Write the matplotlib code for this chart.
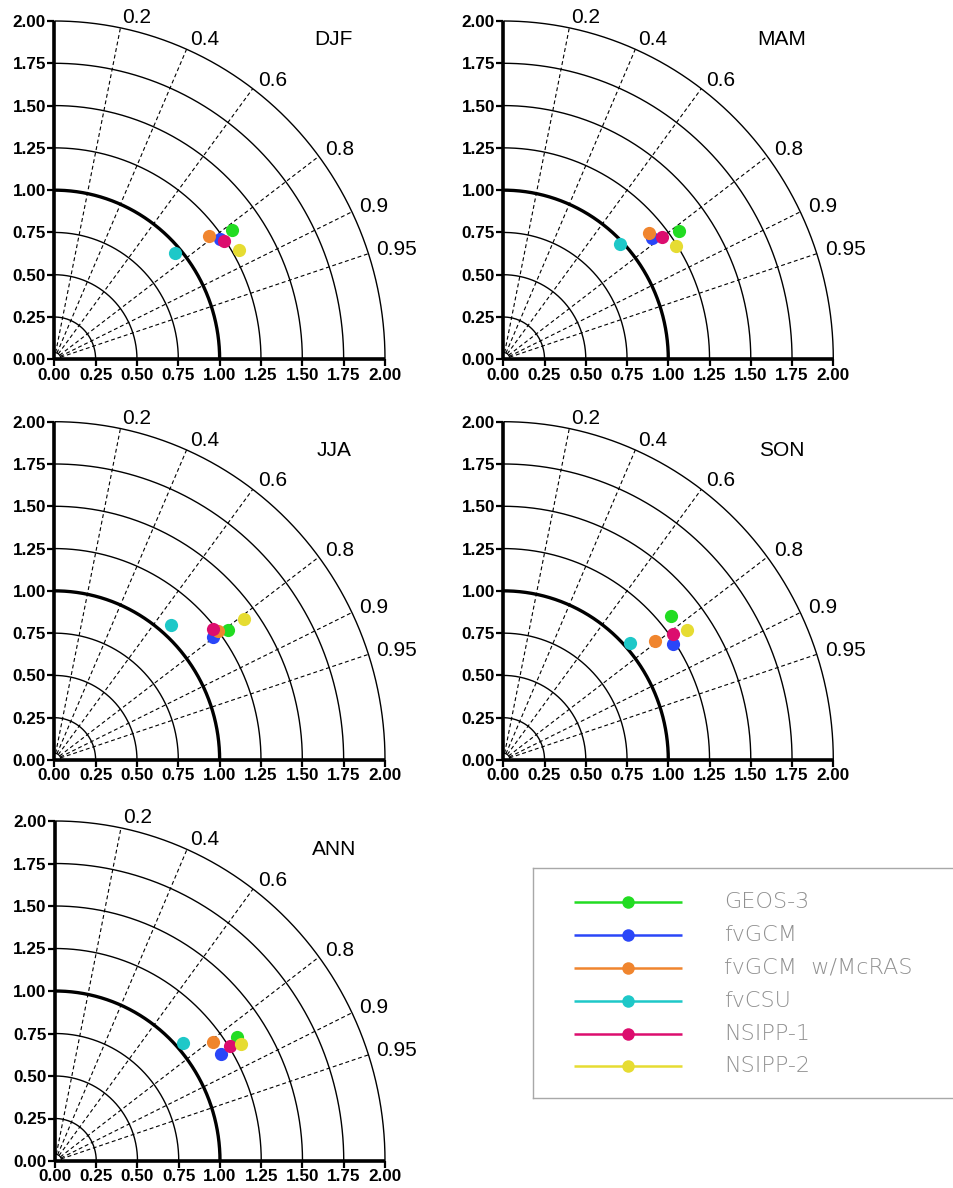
import numpy as np
import matplotlib
matplotlib.use("Agg")
import matplotlib.pyplot as plt

# ---------------- data ----------------
models = ["GEOS-3", "fvGCM", "fvGCM  w/McRAS", "fvCSU", "NSIPP-1", "NSIPP-2"]
colors = ["#22dc22", "#2a46f8", "#f0852e", "#1ec8c8", "#dc0d6e", "#e6dc32"]

seasons = ["DJF", "MAM", "JJA", "SON", "ANN"]

# normalized standard deviation and correlation for each model
std_djf = [1.321, 1.226, 1.189, 0.963, 1.244, 1.289]
corr_djf = [0.815, 0.816, 0.789, 0.759, 0.826, 0.865]

std_mam = [1.310, 1.151, 1.156, 0.981, 1.202, 1.242]
corr_mam = [0.814, 0.782, 0.764, 0.718, 0.799, 0.843]

std_jja = [1.300, 1.205, 1.247, 1.063, 1.237, 1.419]
corr_jja = [0.807, 0.798, 0.792, 0.662, 0.778, 0.810]

std_son = [1.327, 1.236, 1.158, 1.032, 1.267, 1.351]
corr_son = [0.766, 0.833, 0.793, 0.744, 0.810, 0.822]

std_ann = [1.320, 1.187, 1.187, 1.038, 1.258, 1.319]
corr_ann = [0.834, 0.847, 0.809, 0.746, 0.843, 0.854]

season_std = [std_djf, std_mam, std_jja, std_son, std_ann]
season_corr = [corr_djf, corr_mam, corr_jja, corr_son, corr_ann]

corr_ticks = [0.2, 0.4, 0.6, 0.8, 0.9, 0.95]
corr_labels = ["0.2", "0.4", "0.6", "0.8", "0.9", "0.95"]
std_arcs = [0.25, 0.5, 0.75, 1.0, 1.25, 1.5, 1.75, 2.0]
axis_ticks = [0.0, 0.25, 0.5, 0.75, 1.0, 1.25, 1.5, 1.75, 2.0]
axis_ticklabels = ["0.00", "0.25", "0.50", "0.75", "1.00", "1.25", "1.50", "1.75", "2.00"]

# ---------------- layout ----------------
W, H = 954, 1188
fig = plt.figure(figsize=(W / 100, H / 100), dpi=100)

# (left px, origin y px, right px, top y px)
panel_px = [
    (54.3, 359.3, 385.0, 21.0),
    (503.3, 359.3, 833.3, 21.0),
    (54.3, 760.0, 385.0, 421.7),
    (503.3, 760.0, 833.3, 421.7),
    (55.0, 1161.0, 385.0, 821.0),
]
title_y = [1.89, 1.89, 1.83, 1.83, 1.83]

tick_font = dict(family=["Liberation Sans", "DejaVu Sans"], weight="bold", size=12.3)
label_font = dict(family=["Liberation Sans", "DejaVu Sans"], size=15)

theta_full = np.linspace(0, np.pi / 2, 300)

for i, season in enumerate(seasons):
    l, b, r, t = panel_px[i]
    ax = fig.add_axes([l / W, 1 - b / H, (r - l) / W, (b - t) / H])
    ax.set_xlim(0, 2)
    ax.set_ylim(0, 2)
    ax.set_aspect("auto")
    for s in ["top", "right"]:
        ax.spines[s].set_visible(False)
    for s in ["left", "bottom"]:
        ax.spines[s].set_linewidth(2.6)
        ax.spines[s].set_color("black")
        ax.spines[s].set_capstyle("butt")

    ax.set_xticks(axis_ticks)
    ax.set_yticks(axis_ticks)
    ax.set_xticklabels(axis_ticklabels, fontdict=tick_font)
    ax.set_yticklabels(axis_ticklabels, fontdict=tick_font)
    ax.tick_params(direction="out", length=5, width=1.6, pad=1)

    # std arcs
    for rr in std_arcs:
        lw = 2.4 if rr == 1.0 else 1.0
        ax.plot(rr * np.cos(theta_full), rr * np.sin(theta_full), color="black",
                lw=lw, clip_on=False, solid_capstyle="butt")
    # tiny arc at origin
    ax.plot(0.04 * np.cos(theta_full), 0.04 * np.sin(theta_full), color="black",
            lw=0.8, clip_on=False)

    # correlation rays and labels
    for c, lab in zip(corr_ticks, corr_labels):
        th = np.arccos(c)
        ax.plot([0.04 * np.cos(th), 2.0 * np.cos(th)], [0.04 * np.sin(th), 2.0 * np.sin(th)],
                color="black", lw=0.8, ls=(0, (3.5, 2.5)), clip_on=False)
        ax.text(2.05 * np.cos(th), 2.05 * np.sin(th) + 0.01, lab, ha="left", va="center",
                fontdict=label_font, clip_on=False)

    ax.text(1.69, title_y[i], season, ha="center", va="center", fontdict=label_font)

    # model points
    stds = season_std[i]
    corrs = season_corr[i]
    for m in range(len(models)):
        th = np.arccos(corrs[m])
        ax.plot(stds[m] * np.cos(th), stds[m] * np.sin(th), "o", ms=9.5,
                color=colors[m], mec="none", clip_on=False, zorder=5)

# ---------------- legend ----------------
lx0, ly0, lx1, ly1 = 533.3, 868.3, 1000.0, 1098.3
lax = fig.add_axes([lx0 / W, 1 - ly1 / H, (lx1 - lx0) / W, (ly1 - ly0) / H])
lax.set_xlim(0, lx1 - lx0)
lax.set_ylim(ly1 - ly0, 0)
lax.set_xticks([])
lax.set_yticks([])
for s in lax.spines.values():
    s.set_color("#a8a8a8")
    s.set_linewidth(1.0)
lax.patch.set_alpha(0)

row_y = [33.4, 66.4, 99.4, 132.4, 165.2, 198.0]
for m, name in enumerate(models):
    y = row_y[m]
    lax.plot([41, 149], [y, y], color=colors[m], lw=1.8, solid_capstyle="butt")
    lax.plot([94.5], [y], "o", ms=9, color=colors[m], mec="none")
    lax.text(191, y, name, ha="left", va="center", color="#909090",
             fontsize=16, family=["DejaVu Sans"], weight="light")

fig.savefig("out.png", dpi=100)
